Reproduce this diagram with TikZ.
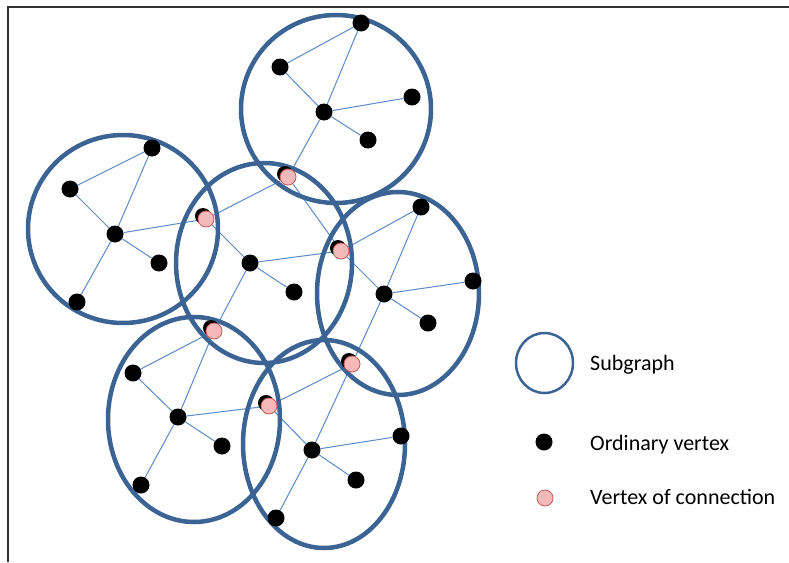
\documentclass[tikz,border=0pt]{standalone}
\usepackage{fontspec}
\setmainfont{Carlito}
\usetikzlibrary{shapes.geometric,shadows,backgrounds}

\definecolor{ringblue}{HTML}{3B6495}
\definecolor{linkblue}{HTML}{5B8BC9}
\definecolor{connfill}{HTML}{F6B9B9}
\definecolor{connline}{HTML}{C85A5A}
\definecolor{framegray}{HTML}{333333}

\begin{document}
\begin{tikzpicture}[x=1pt, y=-1pt,
    vertex/.style={circle, fill=black, inner sep=0pt, minimum size=17pt},
    connbase/.style={circle, fill=connfill, draw=connline, line width=0.8pt, inner sep=0pt, minimum size=16pt},
    conn/.style={connbase, general shadow={fill=black, shadow xshift=-3pt, shadow yshift=3pt}},
    subgraph/.style={ellipse, draw=ringblue, line width=4.5pt, inner sep=0pt},
    link/.style={draw=linkblue, line width=1pt},
    legend/.style={anchor=base west, inner sep=0pt, font=\fontsize{22}{26}\selectfont}]
    \useasboundingbox (0,0) rectangle (789,562);
    \draw[framegray, line width=2pt] (8,562) -- (8,7) -- (789,7);

    % vertices of connection
    \node[conn] (c1) at (206,219) {};
    \node[conn] (c2) at (288,177) {};
    \node[conn] (c3) at (341,251) {};
    \node[conn] (c4) at (214,331) {};
    \node[conn] (c5) at (352,364) {};
    \node[conn] (c6) at (269,406) {};

    % subgraph A
    \node[vertex] (aC) at (115,234) {};
    \node[vertex] (aUL) at (70,189) {};
    \node[vertex] (aUR) at (152,148) {};
    \node[vertex] (aLR) at (159,263) {};
    \node[vertex] (aLL) at (77,302) {};
    % subgraph B
    \node[vertex] (bC) at (324,112) {};
    \node[vertex] (bUL) at (280,67) {};
    \node[vertex] (bUR) at (361,23) {};
    \node[vertex] (bR) at (412,97) {};
    \node[vertex] (bLR) at (368,140) {};
    % subgraph C
    \node[vertex] (cC) at (250,263) {};
    \node[vertex] (cLR) at (294,292) {};
    % subgraph D
    \node[vertex] (dC) at (384,294) {};
    \node[vertex] (dUR) at (421,207) {};
    \node[vertex] (dR) at (473,281) {};
    \node[vertex] (dLR) at (428,323) {};
    % subgraph E
    \node[vertex] (eC) at (178,417) {};
    \node[vertex] (eUL) at (133,373) {};
    \node[vertex] (eLR) at (222,446) {};
    \node[vertex] (eLL) at (141,485) {};
    % subgraph F
    \node[vertex] (fC) at (312,450) {};
    \node[vertex] (fR) at (401,436) {};
    \node[vertex] (fLR) at (356,480) {};
    \node[vertex] (fLL) at (276,518) {};

    \begin{scope}[on background layer]
      \draw[link] (aUL) -- (aUR) (aC) -- (aUL) (aC) -- (aUR) (aC) -- (c1) (aC) -- (aLR) (aC) -- (aLL);
      \draw[link] (bUL) -- (bUR) (bC) -- (bUL) (bC) -- (bUR) (bC) -- (bR) (bC) -- (bLR) (bC) -- (c2);
      \draw[link] (c1) -- (c2) (cC) -- (c1) (c2) -- (c3) (cC) -- (c3) (cC) -- (cLR) (cC) -- (c4);
      \draw[link] (c3) -- (dUR) (dC) -- (c3) (dC) -- (dUR) (dC) -- (dR) (dC) -- (dLR) (dC) -- (c5);
      \draw[link] (eUL) -- (c4) (eC) -- (eUL) (eC) -- (c4) (eC) -- (c6) (eC) -- (eLR) (eC) -- (eLL);
      \draw[link] (c6) -- (c5) (fC) -- (c6) (fC) -- (c5) (fC) -- (fR) (fC) -- (fLR) (fC) -- (fLL);

      \node[subgraph, minimum width=190pt, minimum height=188pt] (sgA) at (123,229) {};
      \node[subgraph, minimum width=190pt, minimum height=188pt] (sgB) at (336,109) {};
      \node[subgraph, minimum width=176pt, minimum height=200pt] (sgC) at (264,263) {};
      \node[subgraph, minimum width=162pt, minimum height=203pt] (sgD) at (398,293.5) {};
      \node[subgraph, minimum width=172pt, minimum height=205pt] (sgE) at (194,419.5) {};
      \node[subgraph, minimum width=162pt, minimum height=208pt] (sgF) at (324,444) {};
    \end{scope}

    % legend
    \node[subgraph, line width=2.5pt, minimum width=57pt, minimum height=60pt] (legsub) at (544.5,363) {};
    \node[vertex] (legord) at (544,442) {};
    \node[connbase] (legconn) at (545,498) {};
    \node[legend] (legsubtxt) at (590,370) {Subgraph};
    \node[legend] (legordtxt) at (590,450) {Ordinary vertex};
    \node[legend] (legconntxt) at (590,504) {Vertex of connection};
  \end{tikzpicture}
\end{document}
